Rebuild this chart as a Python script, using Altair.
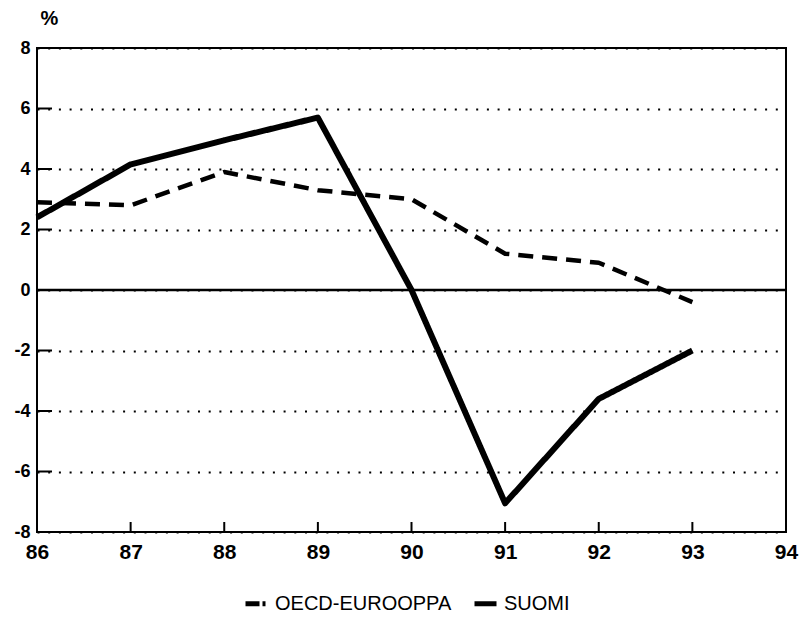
import altair as alt
import pandas as pd

years = [86, 87, 88, 89, 90, 91, 92, 93]
oecd = [2.9, 2.8, 3.9, 3.3, 3.0, 1.2, 0.9, -0.4]
suomi = [2.4, 4.15, 4.95, 5.7, 0.0, -7.05, -3.6, -2.0]
series_names = ["OECD-EUROOPPA", "SUOMI"]
x_ticks = [87, 88, 89, 90, 91, 92, 93]
y_ticks = [-6, -4, -2, 2, 4, 6]
x_labels = [86, 87, 88, 89, 90, 91, 92, 93, 94]
y_labels = [-8, -6, -4, -2, 0, 2, 4, 6, 8]

rows = []
for y, v in zip(years, oecd):
    rows.append({"vuosi": y, "arvo": v, "sarja": series_names[0]})
for y, v in zip(years, suomi):
    rows.append({"vuosi": y, "arvo": v, "sarja": series_names[1]})
df = pd.DataFrame(rows)

# one point per series: draws nothing, only feeds the legend
legend_df = pd.DataFrame({"vuosi": [years[0]] * 2, "arvo": [oecd[0], suomi[0]],
                          "selite": series_names})

FONT = "Liberation Sans"
W, H = 749, 484

xscale = alt.Scale(domain=[86, 94], nice=False, zero=False)
yscale = alt.Scale(domain=[-8, 8], nice=False, zero=False)

x_axis = alt.Axis(values=x_labels, format="d", title=None, ticks=False, domain=False,
                  grid=False, labelFont=FONT, labelFontSize=21, labelFontWeight="bold",
                  labelColor="black", labelPadding=9, labelFlush=False)
y_axis = alt.Axis(values=y_labels, title="%", titleAngle=0, titleX=12, titleY=-30,
                  labelExpr="datum.value < 0 ? '-' + abs(datum.value) : '' + datum.value",
                  titleAlign="center", titleBaseline="middle", titleFont=FONT,
                  titleFontSize=20, titleFontWeight="bold", titleColor="black",
                  ticks=False, domain=False, grid=True, gridColor="black",
                  gridDash=[2, 8.7], gridWidth=2, gridOpacity=1,
                  labelFont=FONT, labelFontSize=18, labelFontWeight="bold",
                  labelColor="black", labelPadding=7, labelFlush=False)

lines = alt.Chart(df).mark_line(strokeCap="butt", strokeJoin="round").encode(
    x=alt.X("vuosi:Q", scale=xscale, axis=x_axis),
    y=alt.Y("arvo:Q", scale=yscale, axis=y_axis),
    strokeDash=alt.StrokeDash(
        "sarja:N",
        scale=alt.Scale(domain=series_names, range=[[15, 9], [1, 0]]),
        legend=None,
    ),
    strokeWidth=alt.StrokeWidth(
        "sarja:N",
        scale=alt.Scale(domain=series_names, range=[4.5, 6]),
        legend=None,
    ),
    color=alt.value("black"),
)

legend_layer = alt.Chart(legend_df).mark_line(strokeWidth=5).encode(
    x=alt.X("vuosi:Q", scale=xscale),
    y=alt.Y("arvo:Q", scale=yscale),
    strokeDash=alt.StrokeDash(
        "selite:N",
        scale=alt.Scale(domain=series_names, range=[[14, 3, 3, 10], [1, 0]]),
        legend=alt.Legend(title=None, orient="none", legendX=206, legendY=542,
                          direction="horizontal", symbolType="stroke",
                          symbolStrokeColor="black", symbolStrokeWidth=5,
                          symbolSize=484, labelFont=FONT, labelFontSize=20,
                          labelColor="black", columnPadding=12, labelOffset=5,
                          labelLimit=0, padding=0),
    ),
    color=alt.value("black"),
)

zero_df = pd.DataFrame({"arvo": [0]})
zero_rule = alt.Chart(zero_df).mark_rule(color="black", strokeWidth=2.5).encode(
    y=alt.Y("arvo:Q", scale=yscale)
)

ytick_df = pd.DataFrame({"arvo": y_ticks})
ytick_rules = alt.Chart(ytick_df).mark_rule(color="black", strokeWidth=2).encode(
    y=alt.Y("arvo:Q", scale=yscale), x=alt.value(0), x2=alt.value(15)
)

xtick_df = pd.DataFrame({"vuosi": x_ticks})
xtick_rules = alt.Chart(xtick_df).mark_rule(color="black", strokeWidth=2).encode(
    x=alt.X("vuosi:Q", scale=xscale), y=alt.value(H), y2=alt.value(H - 10)
)

chart = alt.layer(lines, legend_layer, zero_rule, ytick_rules, xtick_rules).resolve_scale(
    strokeDash="independent"
).properties(
    width=W,
    height=H,
    autosize=alt.AutoSizeParams(type="none"),
    padding={"left": 29, "top": 40, "right": 13, "bottom": 85},
    background="white",
).configure_view(
    stroke="black", strokeWidth=2
)

chart.save("out.html", embed_options={"renderer": "svg", "actions": False})
